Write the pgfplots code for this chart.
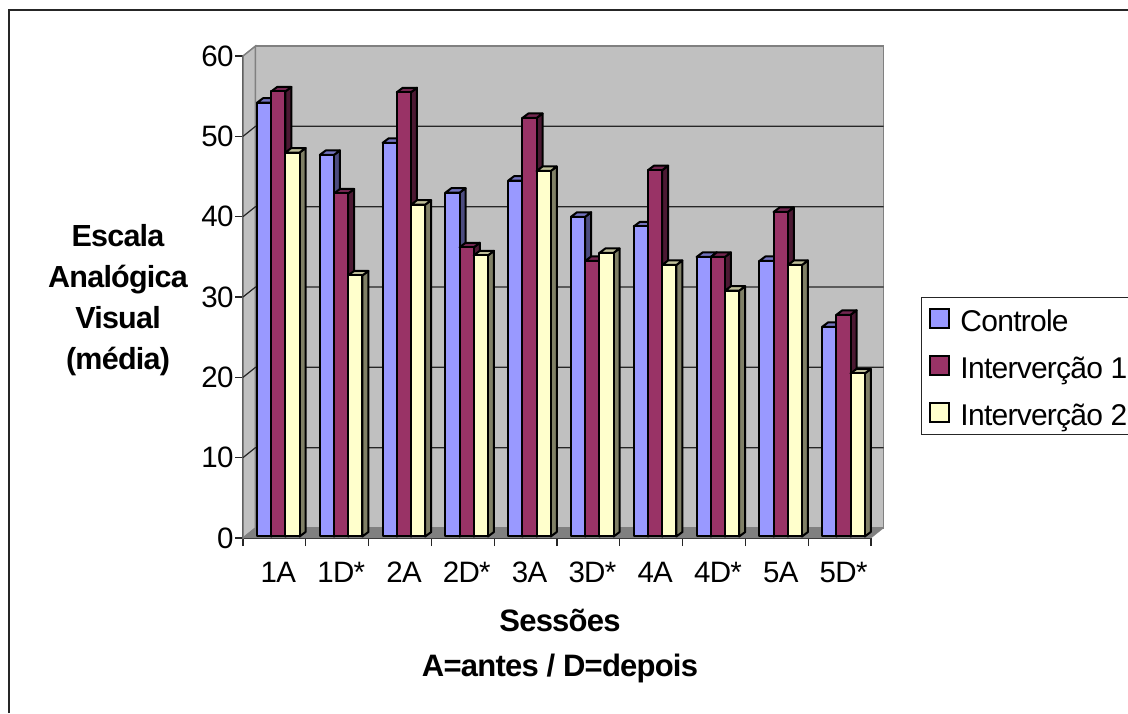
\documentclass[border=0pt]{standalone}
\usepackage{fontspec}
\usepackage{pgfplots}
\usepackage{pgfplotstable}
\pgfplotsset{compat=1.18}
\setmainfont[LetterSpace=-2.5]{Liberation Sans}

\definecolor{ctrlF}{HTML}{9999FF}\definecolor{ctrlT}{HTML}{7373BF}\definecolor{ctrlS}{HTML}{4C4C80}
\definecolor{intaF}{HTML}{993366}\definecolor{intaT}{HTML}{732650}\definecolor{intaS}{HTML}{4C1933}
\definecolor{intbF}{HTML}{FFFFCC}\definecolor{intbT}{HTML}{BFBF99}\definecolor{intbS}{HTML}{808066}
\definecolor{wall}{HTML}{C0C0C0}\definecolor{floorc}{HTML}{808080}\definecolor{inkc}{HTML}{262626}

% mean score per session
\pgfplotstableread{
sess controle inta intb
0 54.0 55.4 47.8
1 47.5 42.7 32.5
2 49.0 55.3 41.3
3 42.8 36.0 35.0
4 44.3 52.1 45.5
5 39.8 34.3 35.3
6 38.6 45.6 33.8
7 34.8 34.8 30.6
8 34.3 40.4 33.8
9 26.1 27.6 20.3
}\scores

\newcommand{\wx}{0.199}  % wall depth along x, in data units
\newcommand{\wy}{1.245}  % wall depth along y, in data units

% One extruded bar: left edge, value, front, top and side colours
\newcommand{\solidbar}[5]{%
  \pgfmathsetmacro{\xa}{#1}%
  \pgfmathsetmacro{\xb}{#1+0.226}%
  \pgfmathsetmacro{\xc}{#1+0.226+0.0955}%
  \pgfmathsetmacro{\xd}{#1+0.0955}%
  \pgfmathsetmacro{\ya}{0.187}%
  \pgfmathsetmacro{\yb}{#2+0.187}%
  \pgfmathsetmacro{\yc}{#2+0.187+0.56}%
  \pgfmathsetmacro{\yd}{0.187+0.56}%
  \edef\drawbar{%
    \noexpand\addplot[forget plot,fill=#5,draw=black,line width=2pt,line join=round] coordinates {(\xb,\ya)(\xc,\yd)(\xc,\yc)(\xb,\yb)} -- cycle;
    \noexpand\addplot[forget plot,fill=#4,draw=black,line width=2pt,line join=round] coordinates {(\xa,\yb)(\xd,\yc)(\xc,\yc)(\xb,\yb)} -- cycle;
    \noexpand\addplot[forget plot,fill=#3,draw=black,line width=2pt,line join=round] coordinates {(\xa,\ya)(\xb,\ya)(\xb,\yb)(\xa,\yb)} -- cycle;
  }\drawbar
}

\begin{document}
\begin{tikzpicture}[x=1pt,y=1pt]
\path[use as bounding box] (0,0) rectangle (1128,713);
\draw[inkc,line width=2pt] (9,0) -- (9,703) -- (1128,703);

\begin{axis}[
  at={(243pt,175pt)},anchor=south west,
  scale only axis,width=628pt,height=482pt,
  xmin=0,xmax=10,ymin=0,ymax=60,clip=false,
  axis x line=bottom,axis y line=left,
  axis line style={-,inkc,line width=1.5pt},
  tick style={inkc,line width=1.3pt},
  tick align=outside,
  major tick length=8pt,minor tick length=8pt,
  ytick={0,10,...,60},
  xtick={0.5,1.5,...,9.5},
  xticklabels={1A,1D*,2A,2D*,3A,3D*,4A,4D*,5A,5D*},
  x tick style={draw=none},
  minor x tick style={draw=inkc,line width=1.3pt},
  minor xtick={0,1,...,10},
  /pgf/number format/assume math mode=true,
  tick label style={font=\fontsize{29.5}{30}\selectfont},
  xticklabel style={yshift=-36pt,xshift=4pt,anchor=base},
  yticklabel style={xshift=2pt},
  legend cell align=left,
  legend style={at={(1.0796,0.5)},anchor=north west,draw=inkc,line width=1pt,
    inner xsep=6pt,inner ysep=5pt,row sep=14pt,
    font=\fontsize{30}{30}\selectfont,
    nodes={text height=26pt,text depth=1pt,inner xsep=3pt,inner ysep=3pt}},
  legend image code/.code={\path[draw=none,fill=none] (0pt,0pt) -- (30pt,0pt);\draw[#1,line width=2pt] (2.5pt,-9pt) rectangle (21.5pt,10pt);},
]
\addlegendimage{fill=ctrlF,draw=black}\addlegendentry{Controle}
\addlegendimage{fill=intaF,draw=black}\addlegendentry{Interverção 1}
\addlegendimage{fill=intbF,draw=black}\addlegendentry{Interverção 2}

% walls and floor
\addplot[forget plot,fill=wall,draw=floorc,line width=1.5pt] coordinates {(\wx,\wy)(10+\wx,\wy)(10+\wx,60+\wy)(\wx,60+\wy)} -- cycle;
\addplot[forget plot,fill=wall,draw=floorc,line width=1.5pt] coordinates {(0,0)(\wx,\wy)(\wx,60+\wy)(0,60)} -- cycle;
\addplot[forget plot,fill=floorc,draw=floorc] coordinates {(0,0)(10,0)(10+\wx,\wy)(\wx,\wy)} -- cycle;

% grid on both walls
\pgfplotsforeachungrouped \v in {10,20,30,40,50}{%
  \pgfmathsetmacro{\vb}{\v+\wy}%
  \pgfmathsetmacro{\xl}{\wx}%
  \pgfmathsetmacro{\xr}{10+\wx}%
  \edef\drawgrid{%
    \noexpand\addplot[forget plot,inkc,line width=1.2pt] coordinates {(0,\v)(\xl,\vb)(\xr,\vb)};
  }\drawgrid
}

% bars, left to right so that nearer faces overlap
\pgfplotsforeachungrouped \i in {0,...,9}{%
  \pgfplotstablegetelem{\i}{controle}\of\scores \let\va\pgfplotsretval
  \pgfplotstablegetelem{\i}{inta}\of\scores \let\vb\pgfplotsretval
  \pgfplotstablegetelem{\i}{intb}\of\scores \let\vc\pgfplotsretval
  \pgfmathsetmacro{\la}{\i+0.223}\let\lca\la
  \pgfmathsetmacro{\lb}{\i+0.449}\let\lcb\lb
  \pgfmathsetmacro{\lc}{\i+0.675}\let\lcc\lc
  \solidbar{\lca}{\va}{ctrlF}{ctrlT}{ctrlS}%
  \solidbar{\lcb}{\vb}{intaF}{intaT}{intaS}%
  \solidbar{\lcc}{\vc}{intbF}{intbT}{intbS}%
}
\end{axis}

% axis titles
\node[align=center,font=\bfseries\fontsize{30.5}{41}\selectfont] at (118,413) {Escala\\Analógica\\Visual\\(média)};
\node[align=center,font=\bfseries\fontsize{31}{45}\selectfont] at (560,67) {Sessões\\A=antes / D=depois};
\end{tikzpicture}
\end{document}
